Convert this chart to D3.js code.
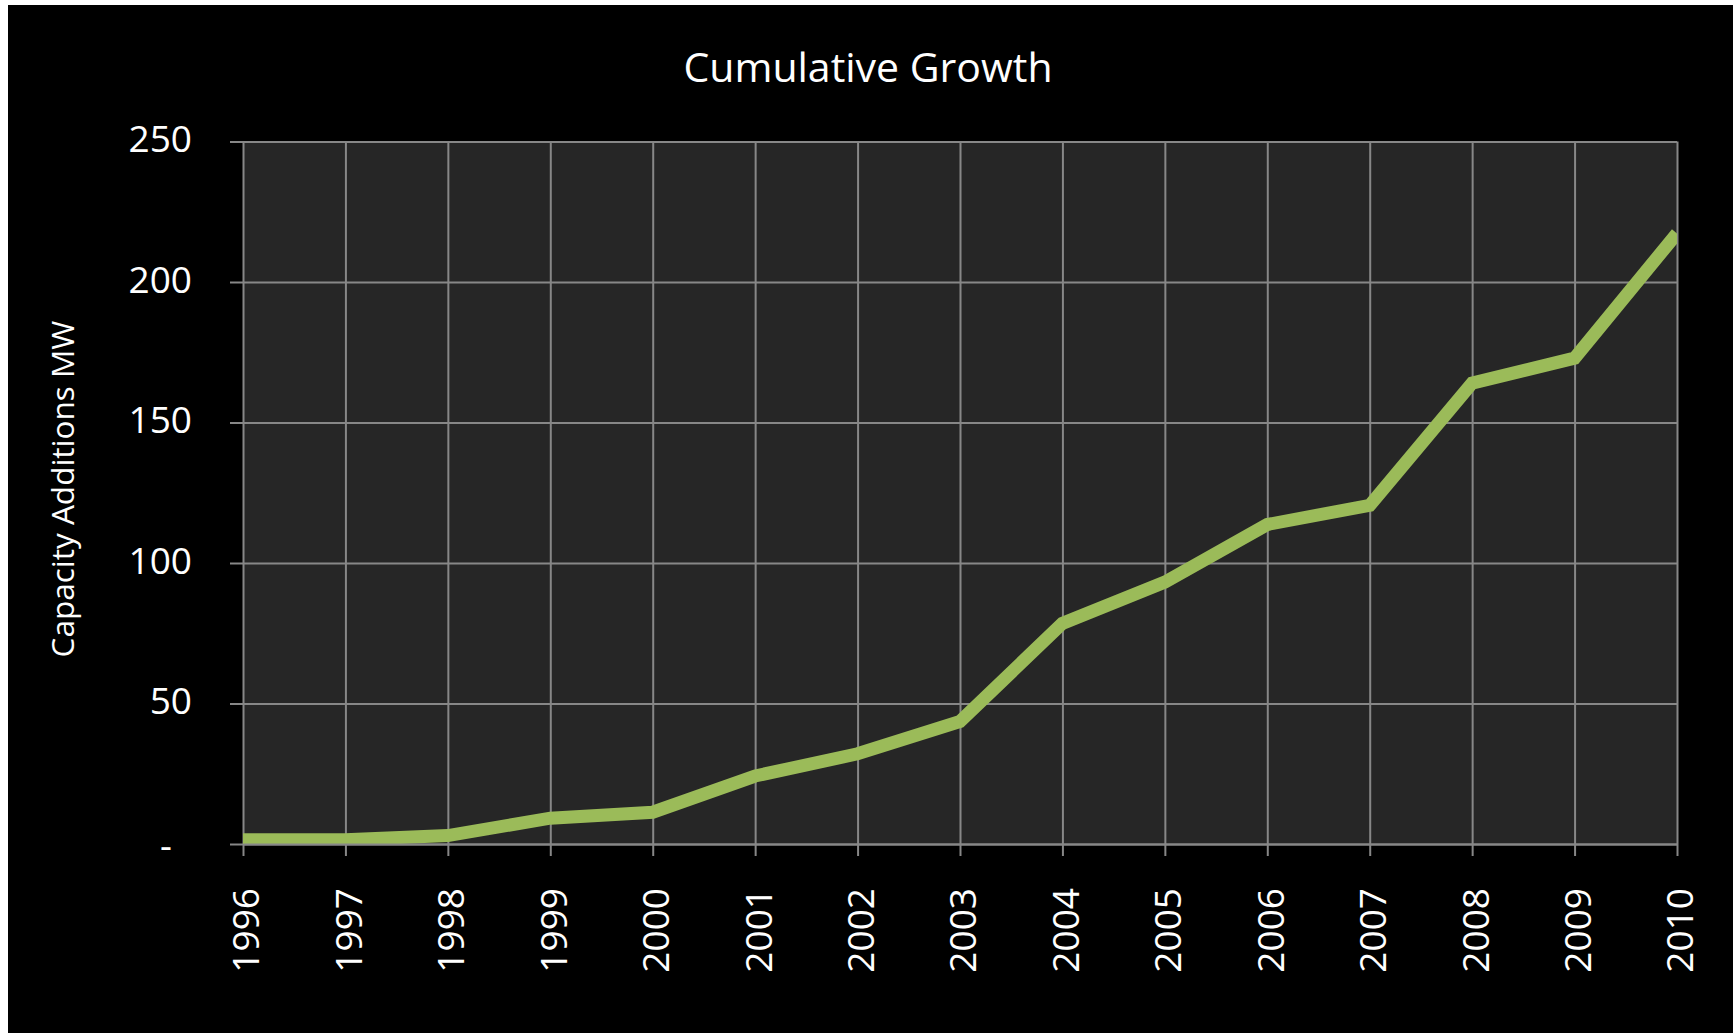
<!DOCTYPE html>
<html>
<head>
<meta charset="utf-8">
<script src="https://cdn.jsdelivr.net/npm/d3@7"></script>
<style>
  html, body { margin: 0; padding: 0; background: #ffffff; }
  svg { display: block; }
  svg text { font-family: "Open Sans", "Noto Sans", sans-serif; }
</style>
</head>
<body>
<svg id="chart" width="1733" height="1033"></svg>
<script>
// Cumulative capacity additions (MW) by year
const years = ["1996","1997","1998","1999","2000","2001","2002","2003","2004","2005","2006","2007","2008","2009","2010"];
const capacity = [1.5, 1.5, 3.0, 9.2, 11.3, 24.2, 32.1, 43.6, 78.5, 93.2, 113.7, 120.5, 164.0, 172.9, 217.3];
const yTicks = [0, 50, 100, 150, 200, 250];
const chartTitle = "Cumulative Growth";
const yAxisTitle = "Capacity Additions MW";

const svg = d3.select("#chart");
const W = 1733, H = 1033;

// black chart frame
svg.append("rect").attr("x", 8).attr("y", 5).attr("width", W - 8).attr("height", H - 5).attr("fill", "#000");

const plot = { left: 243, right: 1677, top: 141.5, bottom: 844 };

const x = d3.scalePoint().domain(years).range([plot.left, plot.right]);
const y = d3.scaleLinear().domain([0, 250]).range([plot.bottom, plot.top]);

const gridColor = "#878787";

// plot background
svg.append("rect")
  .attr("x", plot.left).attr("y", plot.top)
  .attr("width", plot.right - plot.left).attr("height", plot.bottom - plot.top)
  .attr("fill", "#262626");

// horizontal gridlines
svg.append("g")
  .attr("transform", `translate(${plot.left},0)`)
  .call(d3.axisLeft(y).tickValues(yTicks).tickSize(-(plot.right - plot.left)).tickFormat(""))
  .call(g => g.select(".domain").remove())
  .call(g => g.selectAll("line").attr("stroke", gridColor).attr("stroke-width", 2));

// vertical gridlines
svg.append("g")
  .attr("transform", `translate(0,${plot.top})`)
  .call(d3.axisBottom(x).tickSize(plot.bottom - plot.top).tickFormat(""))
  .call(g => g.select(".domain").remove())
  .call(g => g.selectAll("line").attr("stroke", gridColor).attr("stroke-width", 2));

// data line, clipped to the plot area
svg.append("clipPath").attr("id", "plotClip")
  .append("rect")
  .attr("x", plot.left).attr("y", plot.top)
  .attr("width", plot.right - plot.left).attr("height", plot.bottom - plot.top);

const line = d3.line()
  .x((d, i) => x(years[i]))
  .y(d => y(d));

svg.append("path")
  .datum(capacity)
  .attr("clip-path", "url(#plotClip)")
  .attr("fill", "none")
  .attr("stroke", "#9BBB59")
  .attr("stroke-width", 13)
  .attr("stroke-linejoin", "miter")
  .attr("d", line);

// y axis: outward ticks and labels
const yAxis = svg.append("g")
  .attr("transform", `translate(${plot.left},0)`)
  .call(d3.axisLeft(y).tickValues(yTicks).tickSize(13).tickPadding(38)
    .tickFormat(d => d === 0 ? "-" : d3.format("d")(d)));
yAxis.attr("font-family", null);
yAxis.select(".domain").remove();
yAxis.selectAll("line").attr("stroke", gridColor).attr("stroke-width", 2);
yAxis.selectAll("text")
  .attr("fill", "#fff")
  .style("font-size", "37px")
  .attr("dy", "0.28em");
yAxis.selectAll(".tick").filter(d => d === 0).select("text")
  .attr("x", -71).attr("dy", "0.4em");

// x axis: baseline, outward ticks and rotated year labels
const xAxis = svg.append("g")
  .attr("transform", `translate(0,${plot.bottom})`)
  .call(d3.axisBottom(x).tickSize(12).tickSizeOuter(0));
xAxis.attr("font-family", null);
xAxis.select(".domain").attr("stroke", gridColor).attr("stroke-width", 2);
xAxis.selectAll("line").attr("stroke", gridColor).attr("stroke-width", 2);
xAxis.selectAll("text")
  .attr("fill", "#fff")
  .style("font-size", "37px")
  .style("text-anchor", "end")
  .attr("transform", "rotate(-90)")
  .attr("x", -44)
  .attr("y", 0)
  .attr("dy", "0.43em");

// chart title
svg.append("text")
  .attr("x", 868).attr("y", 81.5)
  .attr("text-anchor", "middle")
  .attr("fill", "#fff")
  .style("font-size", "41px")
  .text(chartTitle);

// y axis title
svg.append("text")
  .attr("transform", "translate(74,489) rotate(-90)")
  .attr("text-anchor", "middle")
  .attr("fill", "#fff")
  .style("font-size", "31.5px")
  .text(yAxisTitle);
</script>
</body>
</html>
